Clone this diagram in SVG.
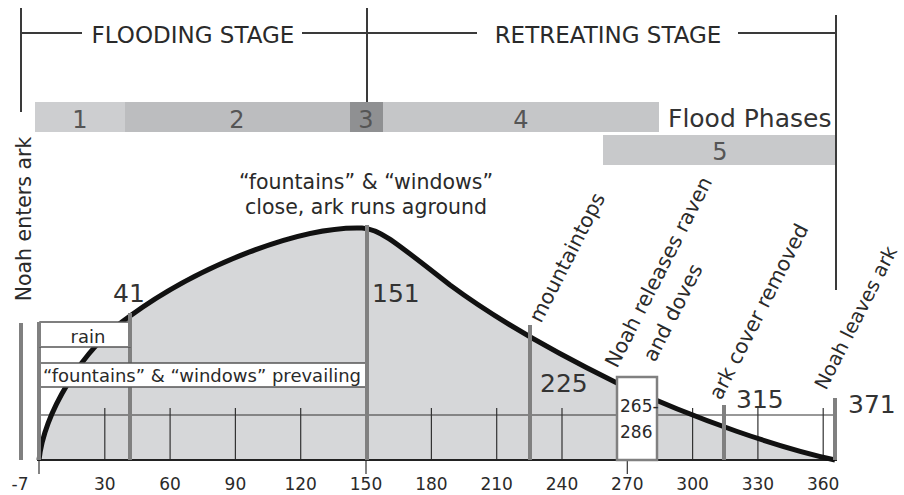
<svg xmlns="http://www.w3.org/2000/svg" width="904" height="495" viewBox="0 0 904 495">
<style>
text{font-family:"DejaVu Sans","Noto Sans",sans-serif;fill:#2a2a2a}
.stage{font-size:23px}
.ph{font-size:24px;fill:#555;text-anchor:middle}
.lbl{font-size:20.5px}
.num{font-size:25px;fill:#333}
.ax{font-size:17px;text-anchor:middle}
.frame{stroke:#3a3a3a;stroke-width:2;fill:none}
.ev{stroke:#808080;stroke-width:4;fill:none}
.tick{stroke:#333;stroke-width:1.2;fill:none}
.box{fill:#fff;stroke:#555;stroke-width:1.5}
</style>

<g id="stages">
<path class="frame" d="M21,8V112M367,8V102M836,15V290M21,33H82M302,33H477M738,33H836"/>
<text class="stage" x="193" y="43" text-anchor="middle">FLOODING STAGE</text>
<text class="stage" x="608" y="43" text-anchor="middle">RETREATING STAGE</text>
</g>

<g id="phases">
<rect x="35" y="102" width="90" height="30" fill="#cdced0"/>
<rect x="125" y="102" width="225" height="30" fill="#bcbdbf"/>
<rect x="350" y="102" width="33" height="30" fill="#8f9092"/>
<rect x="383" y="102" width="276" height="30" fill="#c5c6c8"/>
<rect x="603" y="135" width="232" height="30" fill="#c8c9cb"/>
<text class="ph" x="80" y="128">1</text>
<text class="ph" x="237" y="128">2</text>
<text class="ph" x="366" y="128">3</text>
<text class="ph" x="521" y="128">4</text>
<text class="ph" x="720" y="160">5</text>
<text x="668" y="127" style="font-size:25px;fill:#333">Flood Phases</text>
</g>

<g id="water-fill">
<path d="M39,460 C44,415 80,350 130,316 C200,265 300,226 362,228 C380,229 395,242 450,285 C500,322 560,355 617,383 C700,421 780,448 835,460 Z" fill="#d6d7d9"/>
</g>

<g id="axis">
<path class="tick" d="M104.8,408V460M170.1,408V460M235.4,408V460M300.7,408V460M366,408V460M431.4,408V460M496.7,408V460M562,408V460M627.3,408V460M692.6,408V460M757.9,408V460M823.2,408V460"/>
<path class="tick" d="M39,460V474M366,460V474M627.3,460V474"/>
<path class="tick" d="M40,415H835"/>
<path stroke="#222" stroke-width="2" d="M37,460H837"/>
<text class="ax" x="20" y="490">-7</text>
<text class="ax" x="104.8" y="490">30</text>
<text class="ax" x="170.1" y="490">60</text>
<text class="ax" x="235.4" y="490">90</text>
<text class="ax" x="300.7" y="490">120</text>
<text class="ax" x="366" y="490">150</text>
<text class="ax" x="431.4" y="490">180</text>
<text class="ax" x="496.7" y="490">210</text>
<text class="ax" x="562" y="490">240</text>
<text class="ax" x="627.3" y="490">270</text>
<text class="ax" x="692.6" y="490">300</text>
<text class="ax" x="757.9" y="490">330</text>
<text class="ax" x="823.2" y="490">360</text>
</g>

<g id="curve">
<path d="M39,460 C44,415 80,350 130,316 C200,265 300,226 362,228 C380,229 395,242 450,285 C500,322 560,355 617,383 C700,421 780,448 835,460" fill="none" stroke="#111" stroke-width="5"/>
</g>

<g id="events">
<path class="ev" d="M21,323V460M39,322V460M130,313V460M367,225V460M530,325V460M724,405V460M835,398V460"/>
</g>

<g id="rain">
<rect class="box" x="40" y="322" width="90" height="25"/>
<path class="ev" d="M39,322V347M130,313V347"/>
<text x="88" y="343" text-anchor="middle" style="font-size:18px">rain</text>
</g>

<g id="prevailing">
<rect class="box" x="40" y="363" width="326" height="24"/>
<path class="ev" d="M39,362V388M367,362V388"/>
<text x="202" y="382" text-anchor="middle" style="font-size:18px">“fountains” &amp; “windows” prevailing</text>
</g>

<g id="box-265">
<rect x="617" y="377" width="40" height="83" fill="#fff" stroke="#808080" stroke-width="2.5"/>
<text x="620" y="412" style="font-size:17px">265-</text>
<text x="620" y="438" style="font-size:17px">286</text>
</g>

<g id="numbers">
<text class="num" x="129" y="302" text-anchor="middle">41</text>
<text class="num" x="372" y="302">151</text>
<text class="num" x="540" y="392">225</text>
<text class="num" x="736" y="408">315</text>
<text class="num" x="848" y="413">371</text>
</g>

<g id="labels">
<text class="lbl" x="366" y="189" text-anchor="middle">“fountains” &amp; “windows”</text>
<text class="lbl" x="366" y="214" text-anchor="middle">close, ark runs aground</text>
<text class="lbl" transform="translate(31,219) rotate(-90)" text-anchor="middle">Noah enters ark</text>
<text class="lbl" transform="translate(541,324) rotate(-63)">mountaintops</text>
<text class="lbl" transform="translate(617,369) rotate(-63)">Noah releases raven</text>
<text class="lbl" transform="translate(655,363) rotate(-63)">and doves</text>
<text class="lbl" transform="translate(721,401) rotate(-63)">ark cover removed</text>
<text class="lbl" transform="translate(826,391) rotate(-63)" style="font-size:19.5px">Noah leaves ark</text>
</g>
</svg>
